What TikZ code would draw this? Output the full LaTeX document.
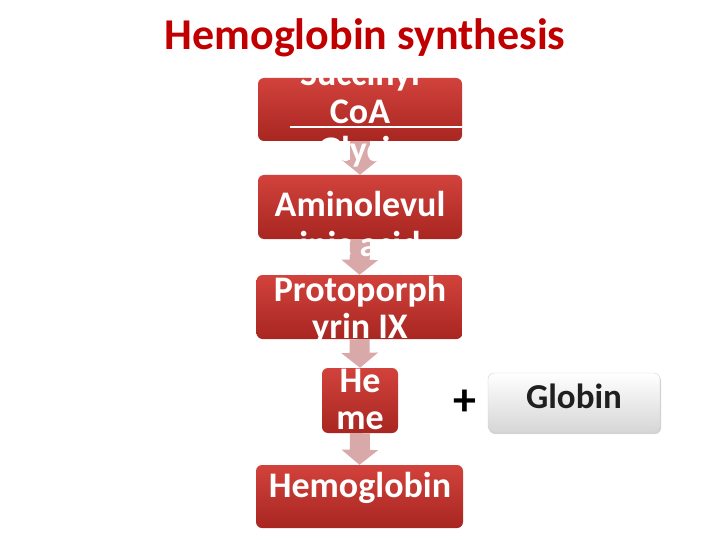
\documentclass[tikz,border=0pt]{standalone}
\usepackage{fontspec}
\setmainfont{Carlito}
\usepackage{xcolor}
\usetikzlibrary{shapes,arrows.meta,positioning,shadows}

\definecolor{titlered}{RGB}{192,0,0}
\definecolor{boxtop}{RGB}{210,66,60}
\definecolor{boxbot}{RGB}{168,38,33}
\definecolor{arrowpink}{RGB}{217,168,168}

\tikzset{
  redbox/.style={rounded corners=6pt, top color=boxtop, bottom color=boxbot,
    draw=none, inner sep=0pt},
  boxtext/.style={text=white, align=center, inner sep=0pt,
    font=\fontsize{36}{37}\selectfont\bfseries},
  greybox/.style={rounded corners=6pt, top color=white, bottom color=black!16,
    draw=black!18, inner sep=0pt,
    drop shadow={shadow xshift=1pt, shadow yshift=-2pt, opacity=0.35}},
  flowarrow/.style={draw=arrowpink, line width=20pt,
    -{Triangle[length=15pt,width=36pt,color=arrowpink]}}
}

\begin{document}
\begin{tikzpicture}[x=1pt,y=-1pt]
    \useasboundingbox (0,0) rectangle (720,540);

    % Title
    \node[text=titlered, anchor=base, inner sep=0pt, font=\fontsize{44}{48}\selectfont\bfseries] (title) at (365,50) {Hemoglobin synthesis};

    % Boxes
    \node[redbox, minimum width=204pt, minimum height=63pt] (succ) at (360,109.5) {};
    \node[redbox, minimum width=204pt, minimum height=64pt] (ala) at (360,207) {};
    \node[redbox, minimum width=206pt, minimum height=64pt] (proto) at (359.5,307) {};
    \node[redbox, minimum width=76pt, minimum height=65pt] (heme) at (360,400.5) {};
    \node[redbox, minimum width=207pt, minimum height=63pt] (hb) at (359.5,496.5) {};
    \node[greybox, minimum width=172pt, minimum height=59pt] (globin) at (574,402.5) {};
    \draw[white, line width=1.2pt] (290,127) -- (succ.east |- 0,127);

    % Arrows
    \draw[flowarrow] (succ.south) -- (ala.north);
    \draw[flowarrow] (ala.south) -- (proto.north);
    \draw[flowarrow] (proto.south) -- (heme.north);
    \draw[flowarrow] (heme.south) -- (hb.north);

    % Texts
    \node[boxtext, font=\fontsize{36}{38}\selectfont\bfseries] (succtext) at (360,113.5) {Succinyl\\CoA\\+ Glycine};
    \node[boxtext, font=\fontsize{36}{40}\selectfont\bfseries] (alatext) at (360,224.5) {Aminolevul\\inic acid};
    \node[boxtext] (prototext) at (360,310) {Protoporph\\yrin IX};
    \node[boxtext] (hemetext) at (360,399) {He\\me};
    \node[boxtext] (hbtext) at (360,488) {Hemoglobin};
    \node[font=\fontsize{35}{36}\selectfont\bfseries, text=black!88, inner sep=0pt] (globintext) at (globin.center |- 0,396) {Globin};
    \node[font=\fontsize{46}{48}\selectfont\bfseries, inner sep=0pt] (plus) at (465,403) {+};
\end{tikzpicture}
\end{document}
